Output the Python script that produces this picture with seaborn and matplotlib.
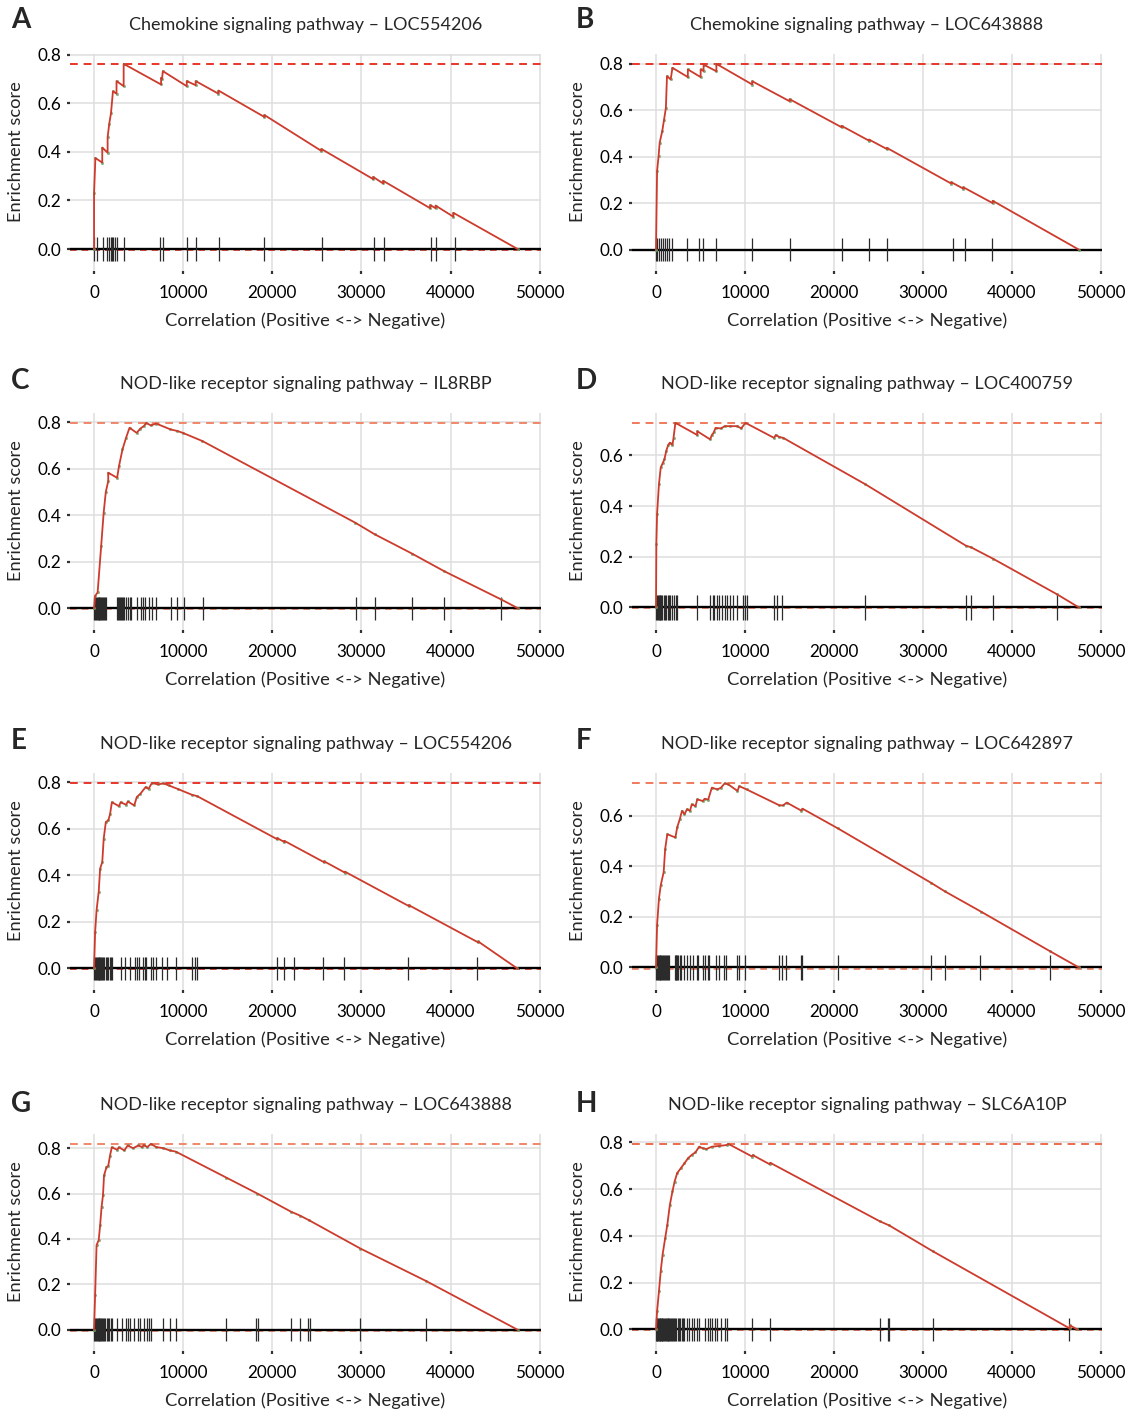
import matplotlib
matplotlib.use("Agg")
import matplotlib.pyplot as plt
import seaborn as sns
from matplotlib.ticker import FuncFormatter

# ---- data ----
letters = ["A", "B", "C", "D", "E", "F", "G", "H"]
titles = [
    "Chemokine signaling pathway \u2013 LOC554206",
    "Chemokine signaling pathway \u2013 LOC643888",
    "NOD-like receptor signaling pathway \u2013 IL8RBP",
    "NOD-like receptor signaling pathway \u2013 LOC400759",
    "NOD-like receptor signaling pathway \u2013 LOC554206",
    "NOD-like receptor signaling pathway \u2013 LOC642897",
    "NOD-like receptor signaling pathway \u2013 LOC643888",
    "NOD-like receptor signaling pathway \u2013 SLC6A10P",
]
es_max = [0.763, 0.80, 0.797, 0.728, 0.797, 0.73, 0.819, 0.793]

# running enrichment score (rank, ES)
a_x = [0, 0, 150, 920, 920, 1520, 1520, 1700, 1900, 2120, 2520, 2520, 3320, 3320, 7520, 7520, 7620, 7720,
       10400, 10400, 11400, 11400, 13960, 13960, 19120, 19120, 25520, 25520, 31320, 31320, 32440, 32440,
       37720, 37720, 38320, 38320, 40320, 40320, 47520]
a_y = [0, 0.23, 0.375, 0.356, 0.418, 0.397, 0.46, 0.515, 0.56, 0.65, 0.64, 0.692, 0.671, 0.763, 0.678, 0.705,
       0.70, 0.733, 0.671, 0.692, 0.675, 0.692, 0.64, 0.653, 0.544, 0.552, 0.404, 0.412, 0.288, 0.297, 0.27,
       0.281, 0.168, 0.181, 0.168, 0.179, 0.133, 0.149, 0]
b_x = [0, 120, 290, 410, 700, 905, 1110, 1235, 1650, 1850, 3580, 3580, 5020, 5020, 5350, 5350, 6790, 6790,
       10820, 10820, 15020, 15020, 20860, 20860, 23950, 23950, 25960, 25960, 33210, 33210, 34570, 34570,
       37860, 37860, 47530]
b_y = [0, 0.338, 0.403, 0.46, 0.51, 0.56, 0.61, 0.747, 0.733, 0.783, 0.743, 0.776, 0.743, 0.776, 0.769, 0.797,
       0.768, 0.80, 0.711, 0.725, 0.639, 0.648, 0.527, 0.533, 0.469, 0.474, 0.433, 0.438, 0.284, 0.29, 0.262,
       0.268, 0.2, 0.21, 0]
c_x = [0, 120, 400, 800, 1075, 1315, 1590, 1590, 2590, 2790, 3190, 3590, 3980, 4780, 5180, 5580, 5860, 6370,
       6970, 8570, 9360, 9960, 12150, 29280, 31470, 35660, 39240, 45620, 47610]
c_y = [0, 0.054, 0.069, 0.27, 0.41, 0.50, 0.547, 0.583, 0.561, 0.61, 0.683, 0.733, 0.776, 0.754, 0.772, 0.783,
       0.797, 0.786, 0.794, 0.769, 0.762, 0.754, 0.719, 0.369, 0.319, 0.236, 0.161, 0.04, 0]
d_x = [0, 40, 120, 330, 530, 740, 940, 1150, 1360, 1560, 1850, 1970, 2180, 4640, 4640, 6080, 6280, 6490, 6690,
       7310, 7720, 8340, 9160, 9570, 10060, 13260, 13470, 13880, 14290, 23530, 34830, 35440, 37910, 45090, 47560]
d_y = [0, 0.25, 0.369, 0.486, 0.552, 0.568, 0.584, 0.617, 0.64, 0.65, 0.641, 0.669, 0.728, 0.68, 0.695, 0.663,
       0.68, 0.69, 0.708, 0.706, 0.715, 0.715, 0.715, 0.706, 0.728, 0.669, 0.68, 0.672, 0.669, 0.486, 0.244,
       0.237, 0.192, 0.052, 0]
e_x = [0, 120, 280, 520, 680, 920, 1080, 1320, 1600, 1800, 2000, 2790, 2990, 3590, 3790, 4510, 4790, 5190,
       5790, 6110, 6500, 7180, 7780, 8380, 9380, 10970, 11570, 20550, 20550, 21350, 21350, 25820, 25820,
       28130, 28130, 35320, 35320, 43100, 43100, 47490]
e_y = [0, 0.157, 0.25, 0.329, 0.429, 0.457, 0.557, 0.629, 0.636, 0.664, 0.714, 0.697, 0.714, 0.703, 0.717,
       0.70, 0.736, 0.75, 0.779, 0.771, 0.797, 0.79, 0.795, 0.786, 0.771, 0.746, 0.74, 0.555, 0.56, 0.543,
       0.548, 0.456, 0.46, 0.412, 0.416, 0.268, 0.272, 0.112, 0.116, 0]
f_x = [0, 120, 330, 530, 860, 1030, 1270, 2180, 2380, 2670, 2920, 3200, 3490, 3820, 4020, 4440, 4640, 5260,
       5460, 5870, 6280, 6900, 7310, 7720, 8130, 9160, 9360, 10190, 13880, 14290, 14700, 16350, 16470, 20450,
       30920, 32480, 36590, 44270, 47560]
f_y = [0, 0.168, 0.272, 0.325, 0.377, 0.469, 0.527, 0.514, 0.554, 0.586, 0.619, 0.606, 0.626, 0.619, 0.645,
       0.638, 0.665, 0.658, 0.667, 0.664, 0.711, 0.704, 0.711, 0.728, 0.724, 0.698, 0.717, 0.704, 0.641, 0.641,
       0.652, 0.62, 0.628, 0.55, 0.335, 0.301, 0.22, 0.065, 0]
g_x = [0, 120, 280, 520, 680, 840, 1000, 1120, 1390, 1590, 1790, 1990, 2590, 2790, 3390, 3780, 4380, 4980,
       5380, 5580, 5980, 6370, 6970, 7770, 8490, 9160, 14860, 18330, 22110, 23110, 24100, 29880, 37250, 47530]
g_y = [0, 0.154, 0.373, 0.395, 0.46, 0.54, 0.592, 0.68, 0.716, 0.722, 0.767, 0.804, 0.793, 0.804, 0.79, 0.812,
       0.80, 0.812, 0.805, 0.814, 0.805, 0.819, 0.805, 0.80, 0.79, 0.785, 0.67, 0.60, 0.52, 0.503, 0.483,
       0.358, 0.215, 0]
h_x = [0, 120, 330, 530, 740, 1030, 1270, 1560, 1850, 2090, 2380, 2790, 3200, 3610, 4020, 4440, 4850, 5260,
       5670, 6280, 7100, 7930, 8130, 10800, 10880, 12770, 12850, 25170, 26200, 31130, 46530, 46530, 47350]
h_y = [0, 0.078, 0.163, 0.249, 0.32, 0.39, 0.447, 0.533, 0.59, 0.632, 0.668, 0.689, 0.71, 0.732, 0.746, 0.757,
       0.781, 0.774, 0.771, 0.781, 0.784, 0.788, 0.793, 0.739, 0.745, 0.706, 0.712, 0.462, 0.445, 0.334,
       0.004, 0.018, 0]

# gene-set hit positions in the ranked list
a_hits = [0, 300, 1000, 1500, 1700, 1900, 2000, 2100, 2300, 2600, 3400, 7400, 7700, 10400, 11400, 14000,
          19100, 25600, 31400, 32500, 37800, 38400, 40500]
b_hits = [0, 150, 340, 560, 790, 1010, 1240, 1460, 1800, 3480, 4830, 5280, 6740, 10790, 15060, 20900, 23930,
          25960, 33370, 34720, 37750]
c_hits = [0, 100, 200, 300, 400, 500, 600, 700, 800, 900, 1000, 1100, 1200, 1350, 2600, 2700, 2800, 2900,
          3000, 3100, 3200, 3400, 3600, 3800, 4000, 4200, 4780, 5260, 5460, 5660, 6180, 6490, 6970, 8650, 9360,
          10080, 12230, 29360, 31550, 35660, 39240, 45620]
d_hits = [0, 100, 200, 300, 400, 500, 600, 700, 850, 1000, 1150, 1300, 1450, 1600, 1800, 2000, 2200, 2350,
          4640, 6080, 6370, 6570, 6820, 7100, 7390, 7720, 8010, 8340, 8670, 9160, 9770, 9980, 10190, 13260,
          13550, 14170, 23530, 34830, 35440, 37910, 45090]
e_hits = [0, 100, 200, 300, 400, 500, 600, 700, 800, 900, 1000, 1150, 1300, 1450, 1600, 1750, 1900, 2050,
          2990, 3470, 3990, 4590, 4790, 5070, 5470, 5670, 5870, 6380, 6580, 6980, 7580, 8180, 9180, 10970,
          11370, 11570, 20550, 21350, 22470, 25740, 28050, 35240, 42980]
f_hits = [0, 100, 200, 300, 400, 500, 600, 700, 800, 900, 1000, 1100, 1200, 1350, 1500, 2100, 2200, 2300,
          2400, 2500, 2650, 2800, 3200, 3490, 3820, 4110, 4560, 4720, 5260, 5460, 5870, 6000, 6690, 7100, 7600,
          7840, 9160, 9360, 10060, 13880, 14170, 14580, 16350, 16470, 20450, 30920, 32480, 36470, 44270]
g_hits = [0, 100, 200, 300, 400, 500, 600, 700, 800, 900, 1000, 1100, 1250, 1400, 1550, 1700, 1850, 2000,
          2590, 3190, 3590, 3780, 3980, 4500, 4900, 5180, 5580, 5980, 6180, 6370, 7690, 8490, 9160, 14860,
          18210, 18450, 22110, 23110, 24020, 24180, 29880, 37250]
h_hits = [0, 80, 160, 240, 320, 400, 480, 560, 640, 720, 800, 900, 1000, 1100, 1200, 1300, 1400, 1500, 1600,
          1700, 1800, 1900, 2000, 2150, 2300, 2450, 2600, 2750, 2900, 3050, 3200, 3490, 3740, 4020, 4230, 4560,
          4850, 5460, 5790, 6080, 6280, 6610, 6900, 7310, 7720, 8010, 10800, 12770, 25170, 26120, 26240, 31130,
          46450]

curves_x = [a_x, b_x, c_x, d_x, e_x, f_x, g_x, h_x]
curves_y = [a_y, b_y, c_y, d_y, e_y, f_y, g_y, h_y]
hits = [a_hits, b_hits, c_hits, d_hits, e_hits, f_hits, g_hits, h_hits]
x_ticks = [0, 10000, 20000, 30000, 40000, 50000]

# dashed line colour differs slightly between panels
dash_cols = ["#e8352a", "#e8352a", "#f0876a", "#f07a5c", "#e8352a", "#f07a5c", "#f0876a", "#ee6a4e"]

sns.set_theme(style="whitegrid")
plt.rcParams["font.family"] = ["Lato", "DejaVu Sans"]

W, H = 1135, 1416
fig = plt.figure(figsize=(W / 100, H / 100), dpi=100)
col_left = [70, 632]
col_right = [541, 1102]
row_top = [54, 413, 773, 1134]
box_h = 217
letter_x = [11, 576]
letter_y = [20, 381, 741, 1104]

for i in range(8):
    r, c = divmod(i, 2)
    left, right = col_left[c], col_right[c]
    ax = fig.add_axes([left / W, 1 - (row_top[r] + box_h) / H, (right - left) / W, box_h / H])

    lo, hi = -0.05, es_max[i]
    pad = 0.05 * (hi - lo)
    ax.set_ylim(lo - pad, hi + pad)
    ax.set_xlim(-2700, 50150)

    ax.axhline(es_max[i], ls=(0, (4, 3)), color=dash_cols[i], lw=1.4, zorder=2)
    ax.axhline(-0.004, ls=(0, (4, 3)), color=dash_cols[i], lw=1.2, zorder=2)
    ax.axhline(0, color="black", lw=1.7, zorder=3)
    ax.vlines(hits[i], -0.05, 0.05, color="#2b2b2b", lw=0.9, zorder=4)

    sns.scatterplot(x=curves_x[i], y=curves_y[i], ax=ax, color="#6aa86a", s=5, linewidth=0,
                    alpha=0.8, zorder=5, legend=False)
    sns.lineplot(x=curves_x[i], y=curves_y[i], ax=ax, sort=False, estimator=None,
                 color="#cc3b2c", lw=1.3, zorder=6)

    ax.set_xticks(x_ticks)
    ax.xaxis.set_major_formatter(FuncFormatter(lambda v, p: f"{v:.0f}"))
    ax.set_yticks([t for t in [0, 0.2, 0.4, 0.6, 0.8] if t <= hi + pad])
    ax.yaxis.set_major_formatter(FuncFormatter(lambda v, p: f"{v:.1f}"))
    ax.grid(True, color="#dedede", lw=1.1)
    ax.set_axisbelow(True)
    for s in ax.spines.values():
        s.set_visible(False)
    ax.tick_params(axis="both", bottom=True, left=True, length=2.5, width=1.6, color="#333333",
                   labelsize=12.3, labelcolor="black")
    ax.tick_params(axis="x", pad=7.5)
    ax.tick_params(axis="y", pad=4)

    ax.set_title(titles[i], fontsize=13, pad=17)
    ax.set_xlabel("Correlation (Positive <-> Negative)", fontsize=13.2)
    ax.set_ylabel("Enrichment score", fontsize=13.2)
    ax.xaxis.set_label_coords(0.5, -41 / box_h)
    ax.yaxis.set_label_coords(-46 / (right - left), 0.55)

    fig.text(letter_x[c] / W, 1 - letter_y[r] / H, letters[i], fontsize=20, fontweight="bold",
             ha="left", va="center")

fig.savefig("out.png", dpi=100)
